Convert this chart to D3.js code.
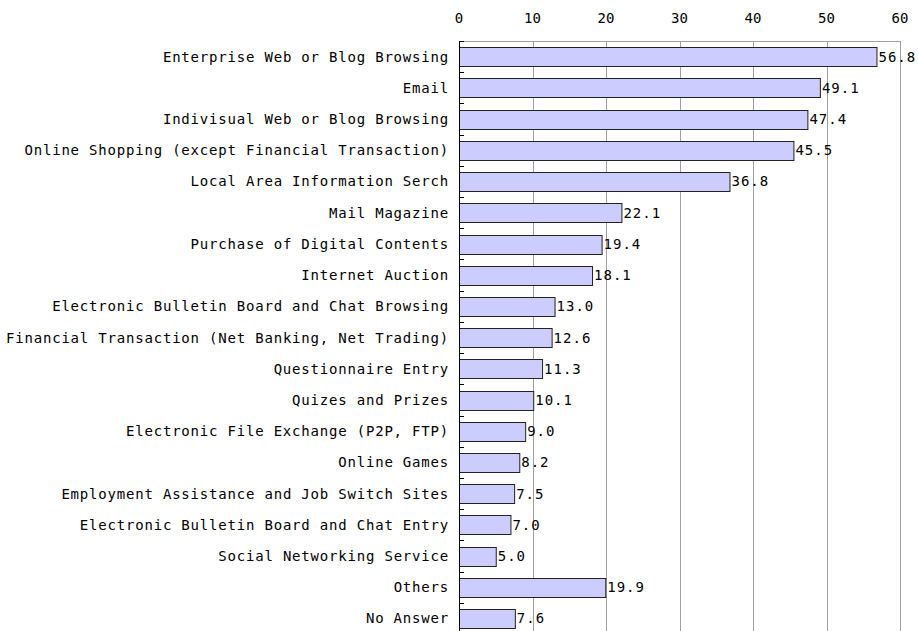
<!DOCTYPE html>
<html>
<head>
<meta charset="utf-8">
<script src="https://cdn.jsdelivr.net/npm/d3@7"></script>
<style>
  body { margin: 0; background: #fff; }
  text { font-family: "DejaVu Sans Mono", monospace; font-size: 14px; fill: #000; }
</style>
</head>
<body>
<div id="chart"></div>
<script>
// categories and values
var categories = [
  "Enterprise Web or Blog Browsing",
  "Email",
  "Indivisual Web or Blog Browsing",
  "Online Shopping (except Financial Transaction)",
  "Local Area Information Serch",
  "Mail Magazine",
  "Purchase of Digital Contents",
  "Internet Auction",
  "Electronic Bulletin Board and Chat Browsing",
  "Financial Transaction (Net Banking, Net Trading)",
  "Questionnaire Entry",
  "Quizes and Prizes",
  "Electronic File Exchange (P2P, FTP)",
  "Online Games",
  "Employment Assistance and Job Switch Sites",
  "Electronic Bulletin Board and Chat Entry",
  "Social Networking Service",
  "Others",
  "No Answer"
];
var values = [56.8, 49.1, 47.4, 45.5, 36.8, 22.1, 19.4, 18.1, 13.0, 12.6, 11.3, 10.1, 9.0, 8.2, 7.5, 7.0, 5.0, 19.9, 7.6];
var tickValues = [0, 10, 20, 30, 40, 50, 60];

var width = 918, height = 631;
// note: "top" is taken by window.top, so use plot* names
var plotLeft = 459, plotRight = 900, plotTop = 41, plotBottom = 634;

var svg = d3.select("#chart").append("svg")
  .attr("width", width)
  .attr("height", height);

var x = d3.scaleLinear().domain([0, 60]).range([plotLeft, plotRight]);
var y = d3.scaleBand().domain(categories).range([plotTop, plotBottom]).paddingInner(0.4).paddingOuter(0.2);

// gridlines
svg.append("g").selectAll("line")
  .data(tickValues.slice(1))
  .join("line")
  .attr("x1", d => Math.round(x(d)) + 0.5)
  .attr("x2", d => Math.round(x(d)) + 0.5)
  .attr("y1", plotTop)
  .attr("y2", plotBottom)
  .attr("stroke", "#a0a0a0")
  .attr("stroke-width", 1);

// top border
svg.append("line")
  .attr("x1", plotLeft).attr("x2", Math.round(x(60)) + 0.5)
  .attr("y1", plotTop + 0.5).attr("y2", plotTop + 0.5)
  .attr("stroke", "#a0a0a0");

// top tick labels
svg.append("g").selectAll("text")
  .data(tickValues)
  .join("text")
  .attr("x", d => x(d))
  .attr("y", 23)
  .attr("text-anchor", "middle")
  .text(d => d);

// bars
svg.append("g").selectAll("rect")
  .data(values)
  .join("rect")
  .attr("x", Math.round(x(0)) + 0.5)
  .attr("y", (d, i) => Math.round(y(categories[i])) + 0.5)
  .attr("width", d => x(d) - x(0))
  .attr("height", Math.round(y.bandwidth()))
  .attr("fill", "#ccccff")
  .attr("stroke", "#222")
  .attr("stroke-width", 1);

// value labels
svg.append("g").selectAll("text")
  .data(values)
  .join("text")
  .attr("x", d => x(d) + 2)
  .attr("y", (d, i) => y(categories[i]) + y.bandwidth() / 2 + 5)
  .attr("letter-spacing", "1px")
  .text(d => d.toFixed(1));

// category labels
svg.append("g").selectAll("text")
  .data(categories)
  .join("text")
  .attr("x", plotLeft - 10)
  .attr("y", d => y(d) + y.bandwidth() / 2 + 5)
  .attr("text-anchor", "end")
  .attr("letter-spacing", "0.8px")
  .text(d => d);

// left axis line and band ticks
var step = y.step();
svg.append("line")
  .attr("x1", Math.round(x(0)) + 0.5).attr("x2", Math.round(x(0)) + 0.5)
  .attr("y1", plotTop).attr("y2", plotBottom)
  .attr("stroke", "#000");
svg.append("g").selectAll("line")
  .data(d3.range(categories.length + 1))
  .join("line")
  .attr("x1", Math.round(x(0)))
  .attr("x2", Math.round(x(0)) + 5)
  .attr("y1", i => Math.round(plotTop + i * step) + 0.5)
  .attr("y2", i => Math.round(plotTop + i * step) + 0.5)
  .attr("stroke", "#000");
</script>
</body>
</html>
